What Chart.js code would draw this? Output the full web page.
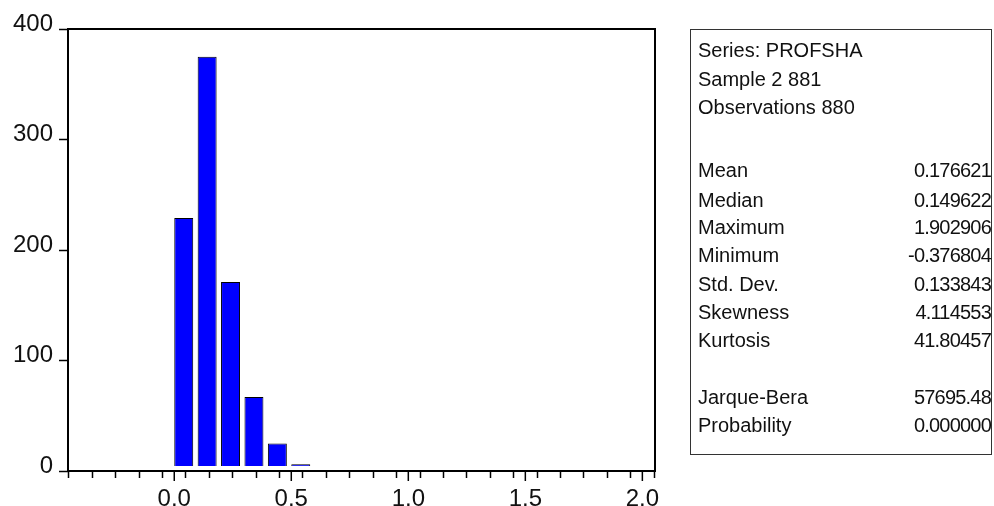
<!DOCTYPE html>
<html>
<head>
<meta charset="utf-8">
<script src="https://cdn.jsdelivr.net/npm/chart.js@4.4.1/dist/chart.umd.min.js"></script>
<style>
  html, body { margin: 0; padding: 0; background: #fff; }
  #wrap { position: relative; width: 994px; height: 506px; overflow: hidden; }
  #c { position: absolute; left: 0; top: 0; }
  #stats { position: absolute; left: 690px; top: 29px; width: 302px; height: 426px;
           box-sizing: border-box; border: 1.5px solid #333; }
  .row { position: absolute; left: 0; right: 0; height: 20px; font: 20px "Liberation Sans", Arial, sans-serif;
         line-height: 20px; color: #111; white-space: nowrap; }
  .lab { position: absolute; left: 7px; }
  .val { position: absolute; right: 0px; letter-spacing: -0.8px; }
</style>
</head>
<body>
<div id="wrap">
  <canvas id="c" width="994" height="506"></canvas>
  <div id="stats"></div>
</div>
<script>
// ---- data ----
const binStarts = [0.0, 0.1, 0.2, 0.3, 0.4, 0.5];
const counts    = [229, 375, 171, 67, 25, 6];
const binWidth  = 0.1;
const xLabelTicks = ["0.0", "0.5", "1.0", "1.5", "2.0"];
const yTickValues = [0, 100, 200, 300, 400];
const statHeader = ["Series: PROFSHA", "Sample 2 881", "Observations 880"];
const statNames  = ["Mean", "Median", "Maximum", "Minimum", "Std. Dev.", "Skewness", "Kurtosis", "Jarque-Bera", "Probability"];
const statValues = ["0.176621", "0.149622", "1.902906", "-0.376804", "0.133843", "4.114553", "41.80457", "57695.48", "0.000000"];

// ---- style constants ----
const barFrac = 0.81;          // fraction of the bin occupied by a bar (starts at bin left edge)
const barBase = 4.5;           // bars float slightly above the axis, as in the original
const xMin = -0.454, xMax = 2.054;
const FONT = '"Liberation Sans", Arial, sans-serif';

// stats box text
const statsEl = document.getElementById('stats');
const rowTops = [43.3, 71.7, 100, 163.3, 192.7, 220, 248.3, 276.7, 305, 333.3, 390, 418.3];
function addRow(i, label, value) {
  const r = document.createElement('div');
  r.className = 'row';
  r.style.top = (rowTops[i] - 2.6 - 29 - 1.5) + 'px';
  const l = document.createElement('span'); l.className = 'lab'; l.textContent = label; r.appendChild(l);
  if (value !== undefined) { const v = document.createElement('span'); v.className = 'val'; v.textContent = value; r.appendChild(v); }
  statsEl.appendChild(r);
}
statHeader.forEach((t, i) => addRow(i, t));
statNames.forEach((t, i) => addRow(i + 3, t, statValues[i]));

const points = binStarts.map((s, i) => ({ x: s + binWidth * barFrac / 2, y: counts[i] }));

const frame = {
  id: 'frame',
  afterDraw(chart) {
    const { ctx, chartArea: a } = chart;
    ctx.save();
    ctx.strokeStyle = '#000';
    ctx.lineWidth = 2;
    ctx.strokeRect(a.left, a.top, a.right - a.left, a.bottom - a.top);
    // longer major ticks on the x axis
    const xs = chart.scales.x;
    ctx.lineWidth = 1.5;
    xLabelTicks.forEach(t => {
      const px = xs.getPixelForValue(parseFloat(t));
      ctx.beginPath(); ctx.moveTo(px, a.bottom); ctx.lineTo(px, a.bottom + 10); ctx.stroke();
    });
    ctx.restore();
  }
};

new Chart(document.getElementById('c'), {
  type: 'bar',
  data: {
    datasets: [{
      data: points,
      backgroundColor: '#0000FF',
      borderColor: '#000',
      borderWidth: 1,
      base: barBase,
      barPercentage: barFrac,
      categoryPercentage: 1.0
    }]
  },
  options: {
    responsive: false,
    animation: false,
    layout: { padding: { left: 0, right: 339, top: 29, bottom: 0 } },
    plugins: { legend: { display: false }, tooltip: { enabled: false } },
    scales: {
      x: {
        type: 'linear', min: xMin, max: xMax, offset: false,
        border: { display: false },
        grid: { display: true, drawOnChartArea: false, drawTicks: true, tickLength: 7, tickColor: '#000', tickWidth: 1.5 },
        afterBuildTicks(scale) {
          const t = [];
          for (let k = -4; k <= 20; k++) t.push({ value: k / 10 });
          scale.ticks = t;
        },
        afterFit(scale) { scale.height = 35; },
        ticks: {
          autoSkip: false, maxRotation: 0, padding: 7, color: '#111',
          font: { family: FONT, size: 24 },
          callback(v) { const s = Number(v).toFixed(1); return xLabelTicks.includes(s) ? s : ''; }
        }
      },
      y: {
        min: 0, max: 400,
        border: { display: false },
        grid: { display: true, drawOnChartArea: false, drawTicks: true, tickLength: 9, tickColor: '#000', tickWidth: 1.5 },
        afterBuildTicks(scale) { scale.ticks = yTickValues.map(v => ({ value: v })); },
        afterFit(scale) { scale.width = 68; },
        ticks: {
          padding: 6, labelOffset: -5, color: '#111',
          font: { family: FONT, size: 24 },
          callback(v) { return String(v); }
        }
      }
    }
  },
  plugins: [frame]
});
</script>
</body>
</html>
